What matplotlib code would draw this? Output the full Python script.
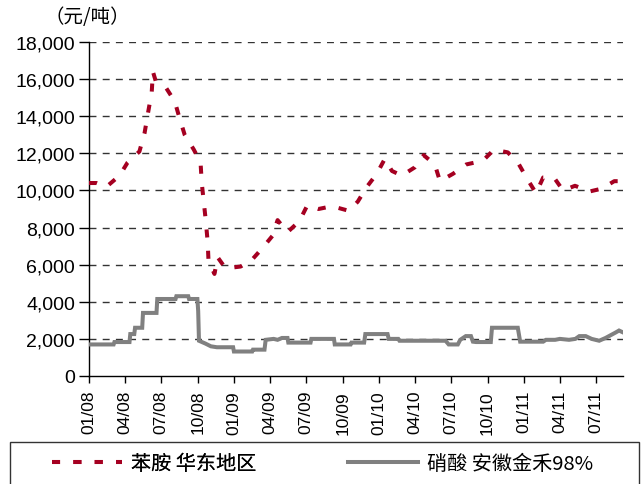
import numpy as np
import pandas as pd
import matplotlib
matplotlib.use("Agg")
import matplotlib.pyplot as plt
import matplotlib.dates as mdates
from matplotlib.ticker import FuncFormatter
from matplotlib.patches import Rectangle

# ---- aniline, East China (yuan/t) ----
aniline_dates = [
    "2008-01-01", "2008-01-20", "2008-02-14", "2008-03-18", "2008-04-07", "2008-05-07",
    "2008-05-20", "2008-05-28", "2008-06-07", "2008-06-10", "2008-06-17", "2008-07-14",
    "2008-08-04", "2008-08-16", "2008-08-29", "2008-09-21", "2008-10-08", "2008-10-11",
    "2008-10-16", "2008-10-21", "2008-10-26", "2008-10-28", "2008-11-12", "2008-11-20",
    "2008-12-10", "2009-01-17", "2009-02-16", "2009-03-13", "2009-04-07", "2009-04-20",
    "2009-05-15", "2009-06-14", "2009-07-04", "2009-08-01", "2009-09-04", "2009-10-17",
    "2009-11-08", "2009-12-01", "2009-12-26", "2010-01-15", "2010-02-02", "2010-02-27",
    "2010-04-01", "2010-04-23", "2010-05-21", "2010-06-03", "2010-07-06", "2010-08-08",
    "2010-09-19", "2010-10-17", "2010-11-21", "2010-12-19", "2011-01-08", "2011-01-31",
    "2011-02-18", "2011-03-17", "2011-04-09", "2011-05-09", "2011-06-16", "2011-07-16",
    "2011-08-16", "2011-09-07"]
aniline = [
    10400, 10400, 10200, 10800, 11500, 12100,
    13100, 14100, 15300, 16400, 15900, 15500,
    14800, 13900, 13000, 12200, 11500, 10400,
    9400, 8400, 7200, 6200, 5500, 6400,
    5800, 5900, 6300, 6900, 7550, 8400,
    7750, 8350, 9200, 9000, 9150, 8900,
    9400, 10200, 10900, 11700, 11050, 10800,
    11250, 11900, 11400, 10500, 10900, 11400,
    11600, 12200, 12050, 11400, 10650, 9850,
    10700, 10700, 10000, 10250, 9950, 10100,
    10500, 10500]

# ---- nitric acid 98%, Anhui Jinhe (yuan/t) ----
nitric_dates = [
    "2008-01-01", "2008-03-03", "2008-03-05", "2008-04-12", "2008-04-14", "2008-04-24",
    "2008-04-26", "2008-05-14", "2008-05-16", "2008-06-19", "2008-06-21", "2008-08-06",
    "2008-08-08", "2008-09-07", "2008-09-09", "2008-09-30", "2008-10-02", "2008-10-04",
    "2008-10-20", "2008-11-03", "2008-11-18", "2008-12-29", "2008-12-31", "2009-02-15",
    "2009-02-17", "2009-03-18", "2009-03-21", "2009-04-10", "2009-04-20", "2009-05-01",
    "2009-05-15", "2009-05-17", "2009-07-12", "2009-07-14", "2009-09-09", "2009-09-11",
    "2009-10-21", "2009-10-23", "2009-11-24", "2009-11-27", "2010-01-22", "2010-01-25",
    "2010-02-18", "2010-02-21", "2010-06-17", "2010-06-25", "2010-07-18", "2010-07-24",
    "2010-08-07", "2010-08-20", "2010-08-25", "2010-09-02", "2010-10-09", "2010-10-12",
    "2010-12-16", "2010-12-22", "2011-02-18", "2011-02-25", "2011-03-20", "2011-04-01",
    "2011-04-24", "2011-05-10", "2011-05-20", "2011-06-05", "2011-06-20", "2011-07-09",
    "2011-07-25", "2011-08-20", "2011-08-28", "2011-09-07"]
nitric = [
    1700, 1700, 1830, 1830, 2260, 2260,
    2600, 2600, 3400, 3400, 4150, 4150,
    4300, 4300, 4150, 4150, 3500, 1900,
    1750, 1600, 1550, 1550, 1320, 1320,
    1420, 1420, 1950, 2000, 1950, 2050,
    2050, 1800, 1800, 2000, 2000, 1700,
    1700, 1800, 1800, 2260, 2260, 2000,
    2000, 1900, 1900, 1700, 1700, 1950,
    2150, 2150, 1850, 1830, 1830, 2600,
    2600, 1850, 1850, 1950, 1950, 2000,
    1950, 2000, 2150, 2150, 2000, 1900,
    2050, 2350, 2450, 2350]

tick_dates = pd.date_range("2008-01-01", "2011-07-01", freq="QS")
x_start, x_end = pd.Timestamp("2008-01-01"), pd.Timestamp("2011-09-07")

RED = "#A50021"; GREY = "#808080"
CJK = ["Noto Sans CJK SC", "DejaVu Sans"]
NUM = ["Liberation Sans Narrow", "Liberation Sans", "DejaVu Sans"]

fig = plt.figure(figsize=(6.41, 4.85), dpi=100)
ax = fig.add_axes([89/641, 1-377/485, (623-89)/641, (377-43)/485])

l_nit, = ax.plot(pd.to_datetime(nitric_dates), nitric, color=GREY, lw=2.9,
                 solid_joinstyle="miter", zorder=3)
l_ani, = ax.plot(pd.to_datetime(aniline_dates), aniline, color=RED, lw=2.9, ls=(0, (2, 3.3)),
                 zorder=4)

ax.set_xlim(x_start, x_end); ax.set_ylim(0, 18000)
ax.set_yticks(np.arange(0, 18001, 2000))
ax.yaxis.set_major_formatter(FuncFormatter(lambda v, _: f"{int(v):,}"))
ax.set_xticks(tick_dates)
ax.xaxis.set_major_formatter(mdates.DateFormatter("%m/%y"))
for t in ax.get_xticklabels():
    t.set_rotation(90); t.set_family(["Liberation Sans", "DejaVu Sans"]); t.set_fontsize(12.5)
for t in ax.get_yticklabels():
    t.set_family(NUM); t.set_fontsize(14)
ax.tick_params(axis="y", direction="out", length=7, width=1, pad=3)
ax.tick_params(axis="x", direction="out", length=5, width=1, pad=5)
for s in ["top", "right"]:
    ax.spines[s].set_visible(False)
for s in ["left", "bottom"]:
    ax.spines[s].set_color("black"); ax.spines[s].set_linewidth(1)
for v in np.arange(2000, 18001, 2000):
    ax.axhline(v, color="#333333", lw=1.0, ls=(0, (5, 4.5)), zorder=1)

fig.text(44/641, 1-17/485, "（元/吨）", family=CJK, fontsize=14, ha="left", va="center")

# legend box along the bottom
fig.patches.append(Rectangle((10/641, -0.05), (639-10)/641, 1-443/485+0.05,
                             transform=fig.transFigure, fill=False, ec="#333333", lw=1))
common = dict(loc="center left", frameon=False, handlelength=3.5, handletextpad=0.4,
              borderpad=0, borderaxespad=0, prop={"family": CJK, "size": 14.5})
leg1 = fig.legend([l_ani], ["苯胺 华东地区"], bbox_to_anchor=(52/641, 1-465/485), **common)
fig.add_artist(leg1)
fig.legend([l_nit], ["硝酸 安徽金禾98%"], bbox_to_anchor=(348/641, 1-465/485), **common)

fig.savefig("out.png", dpi=100)
